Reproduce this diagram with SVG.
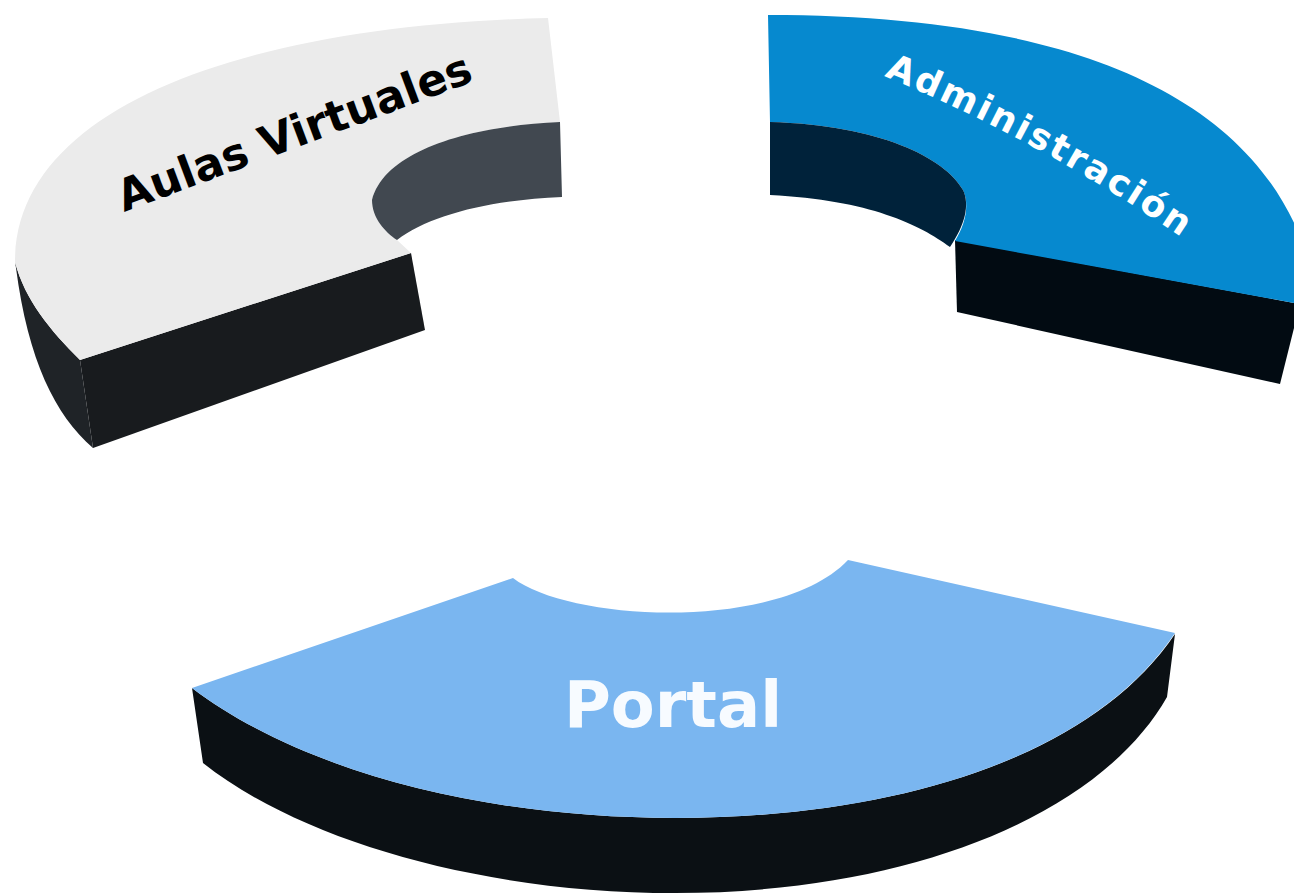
<svg xmlns="http://www.w3.org/2000/svg" width="1294" height="895" viewBox="0 0 1294 895">
<style>
  .lbl { font-family: "DejaVu Sans", Verdana, "Liberation Sans", sans-serif; font-weight: bold; }
  .aulas-top { fill: #ebebeb; }
  .aulas-inner { fill: #414850; }
  .aulas-cut { fill: #181b1e; }
  .aulas-wall { fill: #1f2327; }
  .admin-top { fill: #0689cf; }
  .admin-inner { fill: #00223a; }
  .admin-cut { fill: #020b12; }
  .portal-top { fill: #7ab6f0; }
  .portal-wall { fill: #0b1014; }
</style>
<defs>
  <path id="adminPath" d="M884,76 Q1040,140 1190,243"/>
</defs>
<rect x="0" y="0" width="1294" height="895" fill="#ffffff"/>

<g id="node-aulas">
  <path class="aulas-wall" d="M15,262 C25,300 50,330 80,360 L93,448 C55,415 28,360 16,268 Z"/>
  <path class="aulas-cut" d="M80,360 L411,253 L425,330 L93,448 Z"/>
  <path class="aulas-top" d="M548,18 L560,122 C470,126 385,150 372,200 C372,218 385,232 397,240 L411,253 L80,360 C50,330 25,300 15,262 C15,105 250,25 548,18 Z"/>
  <path class="aulas-inner" d="M560,122 C470,126 385,150 372,200 C372,218 385,232 397,240 C430,215 490,200 562,197 Z"/>
  <text class="lbl" x="124" y="212" font-size="44" fill="#000000" transform="rotate(-20.5 124 212)">Aulas Virtuales</text>
</g>

<g id="node-admin">
  <path class="admin-cut" d="M955,240 L1300,304 L1280,384 L957,312 Z"/>
  <path class="admin-top" d="M768,15 C1060,15 1250,90 1305,250 L1305,305 L955,241 C965,225 970,205 963,190 C945,158 880,125 770,122 Z"/>
  <path class="admin-inner" d="M770,122 C880,125 945,158 963,190 C970,205 965,225 950,247 C920,225 870,200 770,195 Z"/>
  <text class="lbl" font-size="36" fill="#ffffff" letter-spacing="2.5"><textPath href="#adminPath">Administración</textPath></text>
</g>

<g id="node-portal">
  <path class="portal-wall" d="M192,688 L203,763 C300,840 480,893 675,893 C910,893 1100,815 1167,697 L1175,634 C1090,760 890,818 675,818 C480,818 300,770 192,688 Z"/>
  <path class="portal-top" d="M192,688 L513,578 C570,622 780,632 848,560 L1175,633 C1090,760 890,818 675,818 C480,818 300,770 192,688 Z"/>
  <text class="lbl" x="673" y="727" font-size="64" fill="#f7fbff" text-anchor="middle">Portal</text>
</g>

<g id="connectors"></g>
</svg>
